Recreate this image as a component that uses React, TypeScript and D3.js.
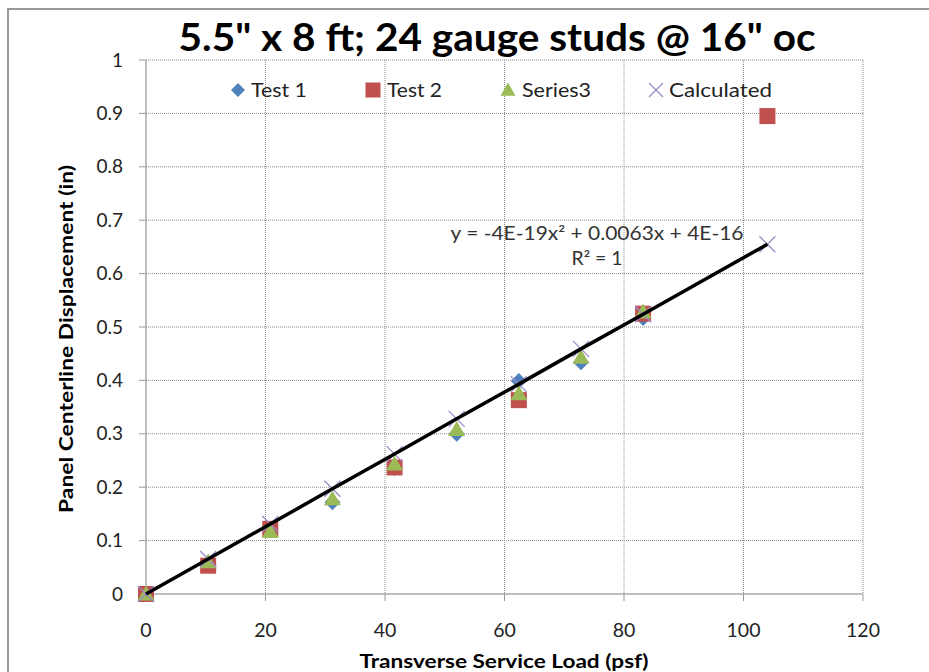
import React from "react";
import * as d3 from "d3";

const loads = [0, 10.4, 20.8, 31.2, 41.6, 52, 62.4, 72.8, 83.2, 104];
const test1 = [0, 0.055, 0.12, 0.172, 0.236, 0.3, 0.399, 0.434, 0.517, null];
const test2 = [0, 0.053, 0.122, null, 0.237, null, 0.363, null, 0.525, 0.895];
const series3 = [0, 0.06, 0.117, 0.178, 0.243, 0.308, 0.375, 0.443, 0.528, null];
const calculated = [0, 0.0655, 0.131, 0.197, 0.262, 0.328, 0.393, 0.459, 0.524, 0.655];
const xTicks = [0, 20, 40, 60, 80, 100, 120];
const yTicks = [0, 0.1, 0.2, 0.3, 0.4, 0.5, 0.6, 0.7, 0.8, 0.9, 1];
const legendItems = ["Test 1", "Test 2", "Series3", "Calculated"];
const titleText = '5.5" x 8 ft; 24 gauge studs @ 16" oc';
const equationText = "y = -4E-19x² + 0.0063x + 4E-16";
const r2Text = "R² = 1";

const BLUE = "#4F81BD";
const RED = "#C0504D";
const GREEN = "#9BBB59";
const PURPLE = "#9D8BC9";

const W = 929;
const H = 672;
const left = 146;
const right = 863;
const top = 60;
const bottom = 594;

const x = d3.scaleLinear().domain([0, 120]).range([left, right]);
const y = d3.scaleLinear().domain([0, 1]).range([bottom, top]);

function Diamond({ cx, cy, s = 8 }: { cx: number; cy: number; s?: number }) {
  return <path d={`M${cx},${cy - s}L${cx + s},${cy}L${cx},${cy + s}L${cx - s},${cy}Z`} fill={BLUE} />;
}
function Square({ cx, cy, s = 8 }: { cx: number; cy: number; s?: number }) {
  return <rect x={cx - s} y={cy - s} width={2 * s} height={2 * s} fill={RED} />;
}
function Triangle({ cx, cy, s = 8.5 }: { cx: number; cy: number; s?: number }) {
  return <path d={`M${cx},${cy - s}L${cx + s},${cy + s * 0.75}L${cx - s},${cy + s * 0.75}Z`} fill={GREEN} />;
}
function Cross({ cx, cy, s = 8 }: { cx: number; cy: number; s?: number }) {
  return (
    <path
      d={`M${cx - s},${cy - s}L${cx + s},${cy + s}M${cx - s},${cy + s}L${cx + s},${cy - s}`}
      stroke={PURPLE}
      strokeWidth={1.3}
      fill="none"
    />
  );
}

export default function App() {
  const trend = d3
    .line<number>()
    .x((_, i) => x(loads[i]))
    .y((d) => y(d));

  const legendMarkerX = [238, 373, 508, 656];
  const legendTextX = [251, 387, 522, 669];
  const legendTextLen = [56, 55, 69, 103];
  const legendY = 90;

  return (
    <svg width={W} height={H} style={{ display: "block", position: "absolute", left: 0, top: 0 }}>
      <rect x={0} y={0} width={W} height={H} fill="#fff" />
      <rect x={8} y={9} width={W + 20} height={H + 20} fill="none" stroke="#999" strokeWidth={2} />

      {/* gridlines */}
      {xTicks.slice(1).map((t) => (
        <line key={"gx" + t} x1={x(t)} x2={x(t)} y1={top} y2={bottom} stroke="#8a8a8a" strokeWidth={1} strokeDasharray="1,1" />
      ))}
      {yTicks.slice(1).map((t) => (
        <line key={"gy" + t} x1={left} x2={right} y1={y(t)} y2={y(t)} stroke="#8a8a8a" strokeWidth={1} strokeDasharray="1,1" />
      ))}

      {/* axes */}
      <line x1={left} x2={left} y1={top} y2={bottom} stroke="#aaa" strokeWidth={1.5} />
      <line x1={left} x2={right} y1={bottom} y2={bottom} stroke="#aaa" strokeWidth={1.5} />
      {yTicks.map((t) => (
        <line key={"ty" + t} x1={left - 7} x2={left} y1={y(t)} y2={y(t)} stroke="#999" strokeWidth={1} />
      ))}
      {xTicks.map((t) => (
        <line key={"tx" + t} x1={x(t)} x2={x(t)} y1={bottom} y2={bottom + 7} stroke="#999" strokeWidth={1} />
      ))}

      {/* tick labels */}
      {yTicks.map((t) => (
        <text key={"ly" + t} x={123} y={y(t)} dy="0.35em" textAnchor="end" fontFamily="Lato" fontSize={19} fill="#222">
          {d3.format("~g")(t)}
        </text>
      ))}
      {xTicks.map((t) => (
        <text key={"lx" + t} x={x(t)} y={630} dy="0.35em" textAnchor="middle" fontFamily="Lato" fontSize={19.5} fill="#222">
          {t}
        </text>
      ))}

      {/* series */}
      {test1.map((v, i) => (v == null ? null : <Diamond key={"a" + i} cx={x(loads[i])} cy={y(v)} />))}
      {test2.map((v, i) => (v == null ? null : <Square key={"b" + i} cx={x(loads[i])} cy={y(v)} />))}
      {series3.map((v, i) => (v == null ? null : <Triangle key={"c" + i} cx={x(loads[i])} cy={y(v)} />))}
      {calculated.map((v, i) => (v == null ? null : <Cross key={"d" + i} cx={x(loads[i])} cy={y(v)} />))}

      {/* trendline */}
      <path d={trend(calculated) || ""} fill="none" stroke="#000" strokeWidth={3.5} />

      {/* equation */}
      <text x={597} y={240} textAnchor="middle" fontFamily="Lato" fontSize={18.5} fill="#333" textLength={293} lengthAdjust="spacingAndGlyphs">
        {equationText}
      </text>
      <text x={597} y={265} textAnchor="middle" fontFamily="Lato" fontSize={18.5} fill="#333" textLength={51} lengthAdjust="spacingAndGlyphs">
        {r2Text}
      </text>

      {/* legend */}
      <Diamond cx={legendMarkerX[0]} cy={legendY} s={7} />
      <Square cx={legendMarkerX[1]} cy={legendY} s={7.5} />
      <Triangle cx={legendMarkerX[2]} cy={legendY} s={7.5} />
      <Cross cx={legendMarkerX[3]} cy={legendY} s={7} />
      {legendItems.map((t, i) => (
        <text
          key={t}
          x={legendTextX[i]}
          y={legendY}
          dy="0.35em"
          fontFamily="Lato"
          fontSize={19}
          fill="#222"
          textLength={legendTextLen[i]}
          lengthAdjust="spacingAndGlyphs"
        >
          {t}
        </text>
      ))}

      {/* title */}
      <text x={497} y={38} dy="0.35em" textAnchor="middle" fontFamily="Lato" fontWeight="bold" fontSize={38} fill="#000" textLength={637} lengthAdjust="spacingAndGlyphs">
        {titleText}
      </text>

      {/* axis titles */}
      <text
        transform={`translate(66,339) rotate(-90)`}
        textAnchor="middle"
        dy="0.35em"
        fontFamily="Lato"
        fontWeight="bold"
        fontSize={19}
        fill="#000"
        textLength={348}
        lengthAdjust="spacingAndGlyphs"
      >
        Panel Centerline  Displacement (in)
      </text>
      <text x={504} y={661} dy="0.35em" textAnchor="middle" fontFamily="Lato" fontWeight="bold" fontSize={19} fill="#000" textLength={289} lengthAdjust="spacingAndGlyphs">
        Transverse Service Load (psf)
      </text>
    </svg>
  );
}
